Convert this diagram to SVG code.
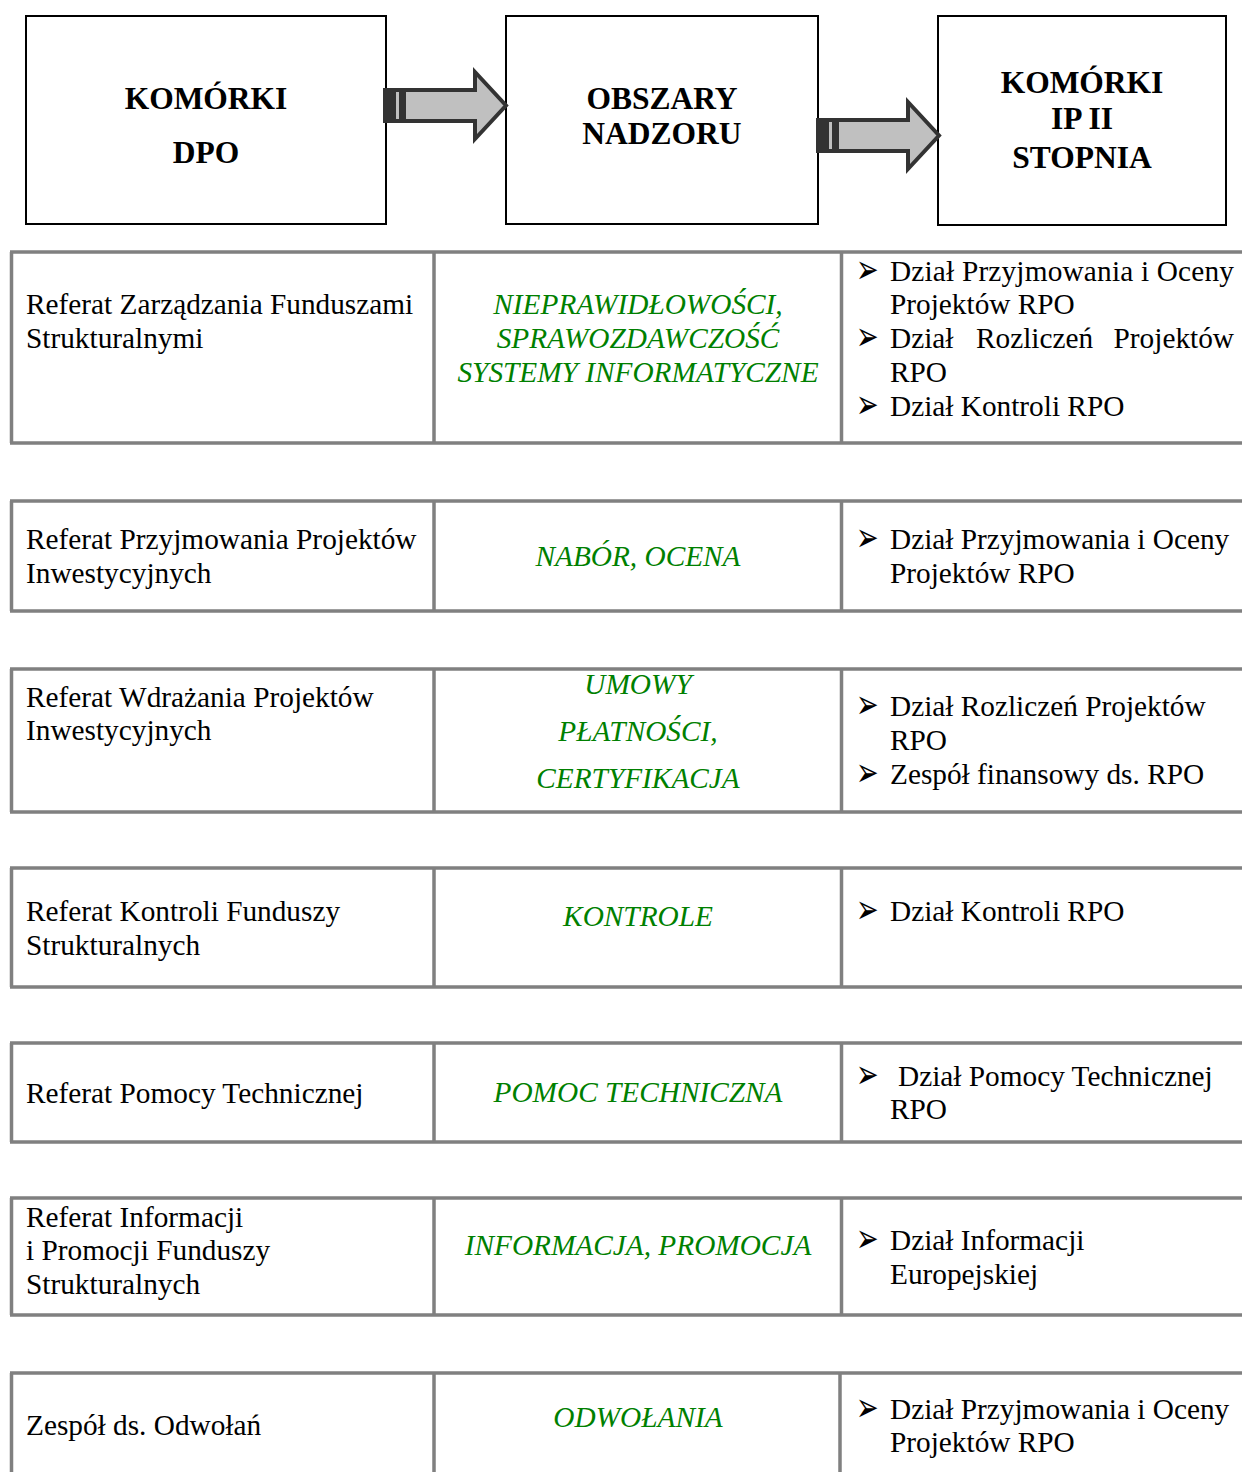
<svg xmlns="http://www.w3.org/2000/svg" xmlns:xlink="http://www.w3.org/1999/xlink" width="1242" height="1472" viewBox="0 0 1242 1472">
<style>
.box{fill:#fff;stroke:#000;stroke-width:2}
.hd{font-family:"Liberation Serif","Times New Roman",serif;font-weight:bold;font-size:31.5px;fill:#000;text-anchor:middle}
.tl{stroke:#808080;stroke-width:3.5;fill:none}
.tx{font-family:"Liberation Serif","Times New Roman",serif;font-size:29.3px;fill:#000}
.gr{font-family:"Liberation Serif","Times New Roman",serif;font-size:29.3px;font-style:italic;fill:#008000;text-anchor:middle}
.bl{font-family:"DejaVu Sans",sans-serif;font-size:27px;fill:#000}
</style>
<defs>
<g id="arrow">
<polygon points="2,2 92,2 92,-16 123,17.5 92,51 92,33 2,33" fill="#c0c0c0" stroke="#333" stroke-width="4" stroke-linejoin="miter"/>
<rect x="0" y="0" width="13" height="35" fill="#333"/>
<rect x="16" y="0" width="7" height="35" fill="#333"/>
</g>
</defs>

<g id="node-komorki-dpo">
<rect class="box" x="26" y="16" width="360" height="208"/>
<text class="hd" x="206" y="109">KOMÓRKI</text>
<text class="hd" x="206" y="163">DPO</text>
</g>
<g id="node-obszary-nadzoru">
<rect class="box" x="506" y="16" width="312" height="208"/>
<text class="hd" x="662" y="109">OBSZARY</text>
<text class="hd" x="662" y="144">NADZORU</text>
</g>
<g id="node-komorki-ip">
<rect class="box" x="938" y="16" width="288" height="209"/>
<text class="hd" x="1082" y="93">KOMÓRKI</text>
<text class="hd" x="1082" y="129">IP II</text>
<text class="hd" x="1082" y="168">STOPNIA</text>
</g>

<g id="connectors">
<use xlink:href="#arrow" href="#arrow" transform="translate(383,88)"/>
<use xlink:href="#arrow" href="#arrow" transform="translate(816,118)"/>
</g>

<g id="row1">
<path class="tl" d="M10,252 H1242 M10,443 H1242 M11.5,252 V443 M434,252 V443 M841.5,252 V443"/>
<text class="tx" x="26" y="314">Referat Zarządzania Funduszami</text>
<text class="tx" x="26" y="348">Strukturalnymi</text>
<text class="gr" x="638" y="314">NIEPRAWIDŁOWOŚCI,</text>
<text class="gr" x="638" y="348">SPRAWOZDAWCZOŚĆ</text>
<text class="gr" x="638" y="382">SYSTEMY INFORMATYCZNE</text>
<text class="bl" transform="translate(856,283) scale(1,1.5)">➢</text>
<text class="tx" x="890" y="281" textLength="344" lengthAdjust="spacing">Dział Przyjmowania i Oceny</text>
<text class="tx" x="890" y="314">Projektów RPO</text>
<text class="bl" transform="translate(856,350) scale(1,1.5)">➢</text>
<text class="tx" x="890" y="348">Dział</text>
<text class="tx" x="976" y="348">Rozliczeń</text>
<text class="tx" x="1234" y="348" text-anchor="end">Projektów</text>
<text class="tx" x="890" y="382">RPO</text>
<text class="bl" transform="translate(856,418) scale(1,1.5)">➢</text>
<text class="tx" x="890" y="416">Dział Kontroli RPO</text>
</g>

<g id="row2">
<path class="tl" d="M10,501 H1242 M10,611 H1242 M11.5,501 V611 M434,501 V611 M841.5,501 V611"/>
<text class="tx" x="26" y="549">Referat Przyjmowania Projektów</text>
<text class="tx" x="26" y="583">Inwestycyjnych</text>
<text class="gr" x="638" y="566">NABÓR, OCENA</text>
<text class="bl" transform="translate(856,551) scale(1,1.5)">➢</text>
<text class="tx" x="890" y="549">Dział Przyjmowania i Oceny</text>
<text class="tx" x="890" y="583">Projektów RPO</text>
</g>

<g id="row3">
<path class="tl" d="M10,669 H1242 M10,812 H1242 M11.5,669 V812 M434,669 V812 M841.5,669 V812"/>
<text class="tx" x="26" y="707">Referat Wdrażania Projektów</text>
<text class="tx" x="26" y="740">Inwestycyjnych</text>
<text class="gr" x="638" y="694">UMOWY</text>
<text class="gr" x="638" y="741">PŁATNOŚCI,</text>
<text class="gr" x="638" y="788">CERTYFIKACJA</text>
<text class="bl" transform="translate(856,718) scale(1,1.5)">➢</text>
<text class="tx" x="890" y="716">Dział Rozliczeń Projektów</text>
<text class="tx" x="890" y="750">RPO</text>
<text class="bl" transform="translate(856,786) scale(1,1.5)">➢</text>
<text class="tx" x="890" y="784">Zespół finansowy ds. RPO</text>
</g>

<g id="row4">
<path class="tl" d="M10,868 H1242 M10,987 H1242 M11.5,868 V987 M434,868 V987 M841.5,868 V987"/>
<text class="tx" x="26" y="921">Referat Kontroli Funduszy</text>
<text class="tx" x="26" y="955">Strukturalnych</text>
<text class="gr" x="638" y="926">KONTROLE</text>
<text class="bl" transform="translate(856,923) scale(1,1.5)">➢</text>
<text class="tx" x="890" y="921">Dział Kontroli RPO</text>
</g>

<g id="row5">
<path class="tl" d="M10,1043 H1242 M10,1142 H1242 M11.5,1043 V1142 M434,1043 V1142 M841.5,1043 V1142"/>
<text class="tx" x="26" y="1103">Referat Pomocy Technicznej</text>
<text class="gr" x="638" y="1102">POMOC TECHNICZNA</text>
<text class="bl" transform="translate(856,1088) scale(1,1.5)">➢</text>
<text class="tx" x="898" y="1086">Dział Pomocy Technicznej</text>
<text class="tx" x="890" y="1119">RPO</text>
</g>

<g id="row6">
<path class="tl" d="M10,1198 H1242 M10,1315 H1242 M11.5,1198 V1315 M434,1198 V1315 M841.5,1198 V1315"/>
<text class="tx" x="26" y="1227">Referat Informacji</text>
<text class="tx" x="26" y="1260">i Promocji Funduszy</text>
<text class="tx" x="26" y="1294">Strukturalnych</text>
<text class="gr" x="638" y="1255">INFORMACJA, PROMOCJA</text>
<text class="bl" transform="translate(856,1252) scale(1,1.5)">➢</text>
<text class="tx" x="890" y="1250">Dział Informacji</text>
<text class="tx" x="890" y="1284">Europejskiej</text>
</g>

<g id="row7">
<path class="tl" d="M10,1373 H1242 M11.5,1373 V1472 M434,1373 V1472 M840,1373 V1472"/>
<text class="tx" x="26" y="1435">Zespół ds. Odwołań</text>
<text class="gr" x="638" y="1427">ODWOŁANIA</text>
<text class="bl" transform="translate(856,1421) scale(1,1.5)">➢</text>
<text class="tx" x="890" y="1419">Dział Przyjmowania i Oceny</text>
<text class="tx" x="890" y="1452">Projektów RPO</text>
</g>
</svg>
